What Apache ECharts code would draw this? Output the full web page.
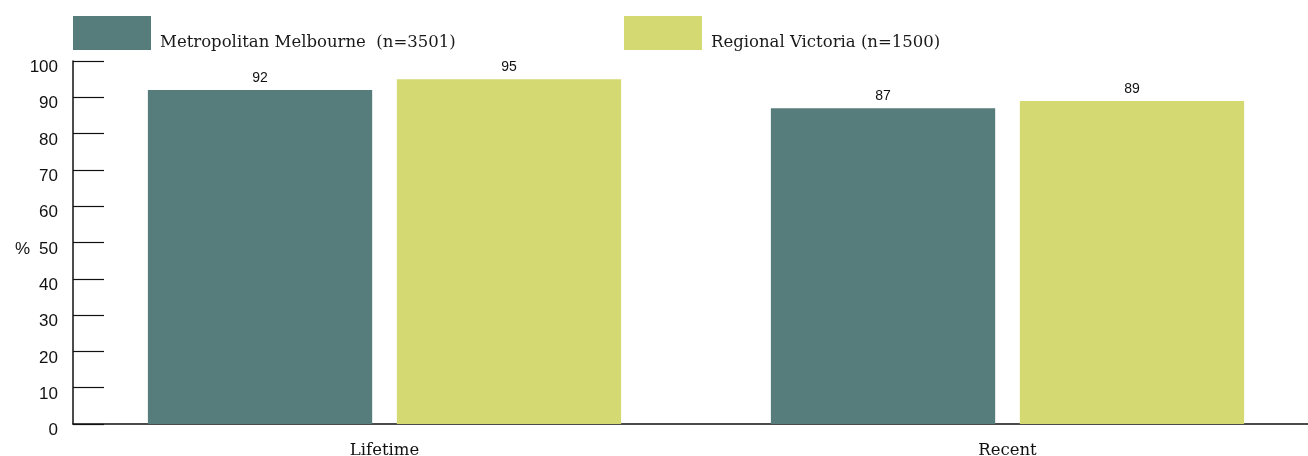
<!DOCTYPE html>
<html>
<head>
<meta charset="utf-8">
<script src="https://cdn.jsdelivr.net/npm/echarts@6/dist/echarts.min.js"></script>
<style>
  html, body { margin: 0; padding: 0; background: #fff; }
  #main { width: 1308px; height: 456px; }
</style>
</head>
<body>
<div id="main"></div>
<script>
var categories = ['Lifetime', 'Recent'];
var seriesNames = ['Metropolitan Melbourne  (n=3501)', 'Regional Victoria (n=1500)'];
var metroValues = [92, 87];
var regionalValues = [95, 89];
var yTicks = [0, 10, 20, 30, 40, 50, 60, 70, 80, 90, 100];

var colors = ['#567d7b', '#d4d971'];
var serif = 'DejaVu Serif';

function legendFor(name, left) {
    return {
        data: [name],
        left: left,
        top: 16,
        padding: 0,
        itemWidth: 78,
        itemHeight: 34,
        itemGap: 0,
        icon: 'rect',
        formatter: '{t|{name}}',
        textStyle: {
            rich: {
                t: {
                    fontFamily: serif,
                    fontSize: 16.5,
                    color: '#1a1a1a',
                    padding: [20, 0, 0, 4]
                }
            }
        }
    };
}

var chart = echarts.init(document.getElementById('main'));
chart.setOption({
    animation: false,
    color: colors,
    legend: [legendFor(seriesNames[0], 73), legendFor(seriesNames[1], 624)],
    grid: { left: 73, top: 61, width: 1246, height: 363, containLabel: false, outerBoundsMode: 'none' },
    xAxis: {
        type: 'category',
        data: categories,
        axisLine: { lineStyle: { color: '#111', width: 1.5 } },
        axisTick: { inside: true, length: 10, lineStyle: { color: '#111' } },
        axisLabel: { fontFamily: serif, fontSize: 16.5, color: '#111', margin: 18 }
    },
    yAxis: {
        type: 'value',
        min: yTicks[0],
        max: yTicks[yTicks.length - 1],
        interval: 10,
        name: '{n|%}',
        nameLocation: 'middle',
        nameRotate: 0,
        nameGap: 43,
        nameMoveOverlap: false,
        nameTextStyle: {
            rich: { n: { fontFamily: 'Liberation Sans', fontSize: 17, color: '#111', padding: [13, 0, 0, 0] } }
        },
        splitLine: { show: false },
        axisLine: { show: true, lineStyle: { color: '#111', width: 1.5 } },
        axisTick: { show: true, inside: true, length: 31, lineStyle: { color: '#111', width: 1.2 } },
        axisLabel: {
            margin: 15,
            formatter: '{v|{value}}',
            rich: { v: { fontFamily: 'Liberation Sans', fontSize: 17, color: '#111', padding: [13, 0, 0, 0] } }
        }
    },
    series: [
        {
            name: seriesNames[0],
            type: 'bar',
            data: metroValues,
            barWidth: '36%',
            barGap: '11%',
            label: { show: true, position: 'top', distance: 5, fontFamily: 'Liberation Sans', fontSize: 14, color: '#111' }
        },
        {
            name: seriesNames[1],
            type: 'bar',
            data: regionalValues,
            barWidth: '36%',
            barGap: '11%',
            label: { show: true, position: 'top', distance: 5, fontFamily: 'Liberation Sans', fontSize: 14, color: '#111' }
        }
    ]
});
</script>
</body>
</html>
